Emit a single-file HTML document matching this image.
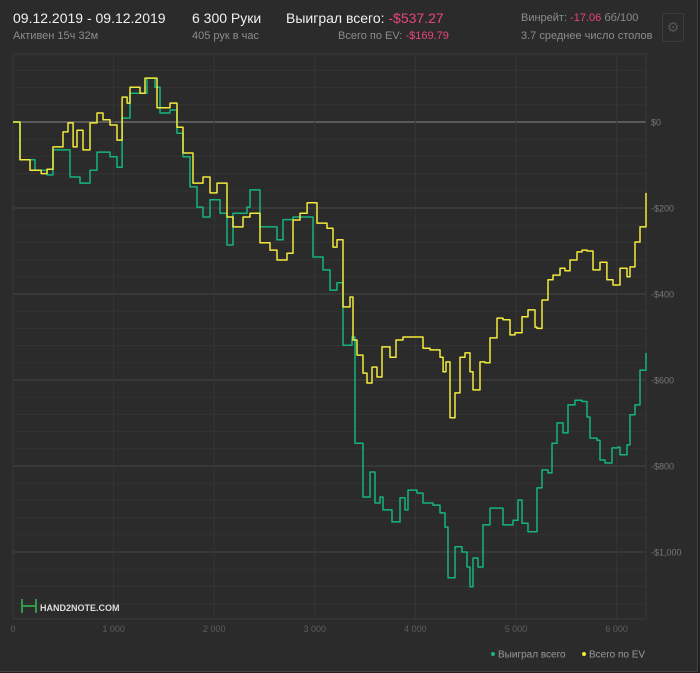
<!DOCTYPE html>
<html><head><meta charset="utf-8"><style>
body{margin:0;width:700px;height:673px;background:#1e1e1e;overflow:hidden;font-family:"Liberation Sans","DejaVu Sans",sans-serif;}
#panel{position:absolute;left:0;top:0;width:697px;height:671px;background:#2b2b2b;border-right:1px solid #444;border-bottom:1px solid #444;}
.t{position:absolute;white-space:nowrap;}
.w{color:#f0f0f0;font-size:14px;}
.g{color:#8c8c8c;font-size:11px;}
.p{color:#e8457c;}
</style></head><body>
<div id="panel">
<div class="t w" style="left:13px;top:10px">09.12.2019 - 09.12.2019</div>
<div class="t g" style="left:13px;top:30px">Активен 15ч 32м</div>
<div class="t w" style="left:192px;top:10px">6 300 Руки</div>
<div class="t g" style="left:192px;top:30px">405 рук в час</div>
<div class="t w" style="left:286px;top:10px">Выиграл всего: <span class="p">-$537.27</span></div>
<div class="t g" style="left:338px;top:30px">Всего по EV: <span class="p">-$169.79</span></div>
<div class="t g" style="left:521px;top:12px">Винрейт: <span class="p">-17.06</span> бб/100</div>
<div class="t g" style="left:521px;top:30px">3.7 среднее число столов</div>
<div class="t" style="left:662px;top:13px;width:20px;height:27px;border:1px solid #3c3c3c;border-radius:2px;color:#555;font-size:14px;text-align:center;line-height:27px">⚙</div>
<svg id="chart" width="700" height="673" style="position:absolute;left:0;top:0"></svg>
</div>
<script>
const hands = [0,70,219,338,398,567,666,765,835,964,1034,1084,1163,1262,1332,1412,1461,1561,1630,1690,1759,1829,1889,1958,2058,2127,2187,2326,2356,2455,2555,2624,2684,2783,2903,2982,3082,3151,3221,3280,3370,3400,3449,3479,3549,3598,3648,3678,3767,3847,3897,3926,4016,4076,4175,4245,4294,4324,4394,4463,4513,4543,4573,4622,4672,4742,4821,4871,4970,5020,5060,5119,5189,5209,5258,5318,5358,5408,5467,5517,5586,5656,5706,5736,5805,5835,5885,5954,6014,6034,6103,6133,6183,6233,6292];
const won = [0,-88,-112,-123,-65,-128,-142,-112,-70,-81,-105,9,67,67,102,81,21,28,-26,-81,-151,-198,-221,-181,-212,-286,-212,-198,-158,-244,-244,-274,-227,-221,-221,-314,-344,-391,-374,-519,-500,-747,-747,-872,-814,-886,-872,-902,-930,-874,-902,-856,-863,-886,-891,-909,-942,-1060,-988,-1000,-1035,-1081,-1014,-1035,-937,-898,-898,-937,-926,-879,-933,-953,-953,-851,-809,-816,-747,-700,-723,-658,-647,-650,-686,-735,-740,-786,-793,-758,-756,-774,-751,-681,-658,-577,-537];
const evHands = [0,70,169,280,338,398,497,547,597,636,696,765,835,895,964,1034,1084,1134,1163,1262,1312,1362,1431,1491,1561,1630,1690,1789,1889,1958,2028,2127,2187,2286,2356,2455,2555,2624,2724,2783,2853,2923,3022,3121,3181,3221,3280,3280,3350,3380,3419,3479,3519,3569,3618,3668,3748,3807,3877,3976,4076,4145,4245,4275,4304,4344,4394,4443,4493,4543,4573,4642,4692,4742,4811,4871,4940,4990,5060,5119,5189,5209,5258,5318,5368,5437,5487,5537,5606,5656,5706,5765,5835,5904,5964,6034,6103,6133,6183,6233,6292];
const ev = [0,-88,-112,-120,-110,-58,-23,-2,-58,-19,-65,-2,21,5,-7,-42,58,44,81,67,102,102,33,33,44,-12,-72,-142,-128,-165,-142,-221,-244,-221,-212,-281,-298,-321,-305,-228,-212,-188,-235,-247,-291,-274,-407,-430,-407,-507,-542,-584,-607,-570,-593,-523,-547,-507,-500,-500,-526,-530,-547,-581,-558,-688,-630,-547,-537,-581,-623,-558,-560,-502,-456,-460,-495,-490,-453,-437,-477,-480,-414,-367,-356,-340,-346,-321,-302,-298,-300,-344,-326,-367,-379,-340,-360,-337,-279,-244,-165,-170];
const yTicks = [0,-200,-400,-600,-800,-1000];
const yTickLabels = ["$0","-$200","-$400","-$600","-$800","-$1,000"];
const xTicks = [0,1000,2000,3000,4000,5000,6000];
const xTickLabels = ["0","1 000","2 000","3 000","4 000","5 000","6 000"];

const NS="http://www.w3.org/2000/svg", svg=document.getElementById('chart');
const L=13,R=646,T=54,B=619;
const X=h=>13+h*0.1006;
const Y=v=>122-v*0.43;
function mk(tag,attrs,parent){const e=document.createElementNS(NS,tag);for(const k in attrs)e.setAttribute(k,attrs[k]);(parent||svg).appendChild(e);return e;}
for(let v=160;v>=-1160;v-=40){
  const y=Y(v); if(y<T||y>B)continue;
  const g=mk('line',{x1:L,x2:R,y1:y,y2:y,stroke:'#333','stroke-width':1});
  
  
}
yTicks.forEach((v,i)=>{
  const y=Y(v);
  const g=mk('line',{x1:L,x2:R,y1:y,y2:y,stroke:v===0?'#8a8a8a':'#454545','stroke-width':1});
  
  
  const t=mk('text',{x:651,y:y+3.5,fill:'#777','font-size':9,'font-family':'Liberation Sans, sans-serif'});
  t.textContent=yTickLabels[i];
  
  
});
xTicks.forEach((h,i)=>{
  const x=X(h);
  const g=mk('line',{x1:x,x2:x,y1:T,y2:B,stroke:'#363636','stroke-width':1});
  
  
  const t=mk('text',{x:x,y:632,fill:'#5e5e5e','font-size':9,'text-anchor':'middle','font-family':'Liberation Sans, sans-serif'});
  t.textContent=xTickLabels[i];
  
  
});
const box=mk('rect',{x:L,y:T,width:R-L,height:B-T,fill:'none',stroke:'#3a3a3a'});


function line(hs,vs,color,name){
  let pts=[];
  hs.forEach((h,i)=>{
    const x=X(h).toFixed(1), y=Y(vs[i]).toFixed(1);
    if(i>0) pts.push(x+','+Y(vs[i-1]).toFixed(1));
    pts.push(x+','+y);
  });
  const p=mk('polyline',{points:pts.join(' '),fill:'none',stroke:color,'stroke-width':1.5,'stroke-linejoin':'round'});
  
  
}
line(hands,won,'#13b57a','won-total-line');
line(evHands,ev,'#f2ea3c','ev-total-line');
const wm=mk('g',{});


mk('path',{d:'M22 599v14M22 606h14M36 599v14',stroke:'#2e9a4a','stroke-width':2,fill:'none'},wm);
const wt=mk('text',{x:40,y:611,fill:'#ddd','font-size':9,'font-weight':'bold','font-family':'Liberation Sans, sans-serif'},wm);
wt.textContent='HAND2NOTE.COM';
[[493,'#13b57a','Выиграл всего','legend-won'],[584,'#f2ea3c','Всего по EV','legend-ev']].forEach(([x,c,txt,n])=>{
  const g=mk('g',{});
  
  
  mk('circle',{cx:x,cy:654,r:2,fill:c},g);
  const t=mk('text',{x:x+5,y:657.5,fill:'#999','font-size':10,'font-family':'Liberation Sans, sans-serif'},g);
  t.textContent=txt;
});
</script>
</body></html>
